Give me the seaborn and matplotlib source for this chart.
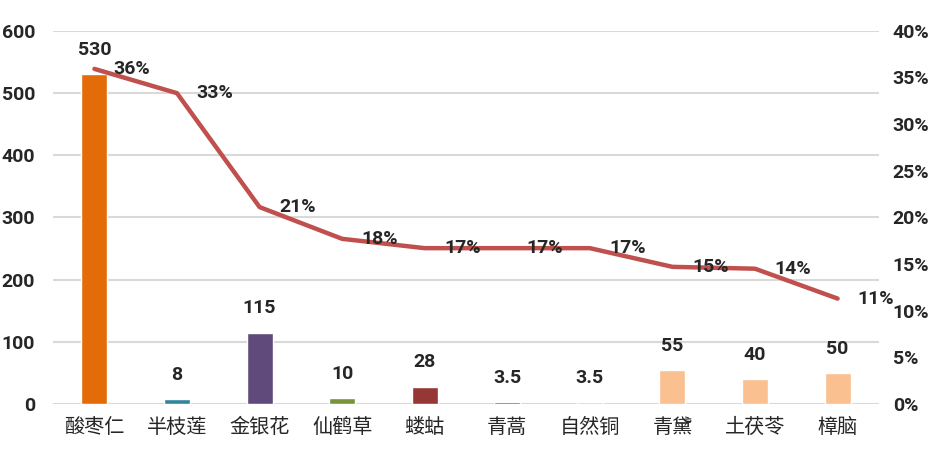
import seaborn as sns
import matplotlib.pyplot as plt
import pandas as pd
from matplotlib.ticker import FuncFormatter

herbs = ["酸枣仁", "半枝莲", "金银花", "仙鹤草", "蝼蛄", "青蒿", "自然铜", "青黛", "土茯苓", "樟脑"]
amounts = [530, 8, 115, 10, 28, 3.5, 3.5, 55, 40, 50]
amount_labels = ["530", "8", "115", "10", "28", "3.5", "3.5", "55", "40", "50"]
rates = [0.359, 0.333, 0.211, 0.177, 0.167, 0.167, 0.167, 0.147, 0.145, 0.113]
rate_labels = ["36%", "33%", "21%", "18%", "17%", "17%", "17%", "15%", "14%", "11%"]
bar_colors = ["#E36C09", "#31859C", "#604A7B", "#77933C", "#953735",
              "#376092", "#FAC090", "#FAC090", "#FAC090", "#FAC090"]

df = pd.DataFrame({"herb": herbs, "amount": amounts, "rate": rates})

sns.set_style("white")
plt.rcParams['font.family'] = ['Roboto', 'Noto Sans CJK SC', 'DejaVu Sans']

fig, ax = plt.subplots(figsize=(9.32, 4.5), dpi=100)
fig.subplots_adjust(left=0.057, right=0.943, top=0.932, bottom=0.102)

sns.barplot(data=df, x="herb", y="amount", hue="herb", palette=bar_colors,
            saturation=1, width=0.315, legend=False, ax=ax, zorder=2)
ax.set_ylim(0, 600)
ax.set_yticks(range(0, 601, 100))
ax.set_xlim(-0.5, len(herbs) - 0.5)
ax.yaxis.grid(True, color="#D9D9D9", linewidth=1.5, zorder=0)
ax.set_axisbelow(True)
for s in ax.spines.values():
    s.set_visible(False)
ax.set_xlabel("")
ax.set_ylabel("")
ax.tick_params(axis="both", length=0)
ax.tick_params(axis="y", labelsize=14, pad=13)
for lab in ax.get_yticklabels():
    lab.set_fontweight("bold")
ax.set_xticks(range(len(herbs)))
ax.set_xticklabels(herbs, fontsize=14.5, family=['Noto Sans CJK SC'])
ax.tick_params(axis="x", pad=9)

for i, (v, t) in enumerate(zip(amounts, amount_labels)):
    ax.annotate(t, (i, v), xytext=(0, 11), textcoords="offset points",
                ha="center", va="bottom", fontsize=14, fontweight="bold")

ax2 = ax.twinx()
sns.lineplot(x=list(range(len(herbs))), y=rates, ax=ax2, color="#C0504D",
             linewidth=3.2, zorder=3)
ax2.set_ylim(0, 0.4)
ax2.set_yticks([i * 0.05 for i in range(9)])
ax2.yaxis.set_major_formatter(FuncFormatter(lambda v, p: f"{v*100:.0f}%"))
for s in ax2.spines.values():
    s.set_visible(False)
ax2.tick_params(axis="y", length=0, labelsize=14, pad=10)
for lab in ax2.get_yticklabels():
    lab.set_fontweight("bold")

for i, (r, t) in enumerate(zip(rates, rate_labels)):
    ax2.annotate(t, (i, r), xytext=(14, 0), textcoords="offset points",
                 ha="left", va="center", fontsize=14, fontweight="bold")

plt.savefig("out.png", dpi=100)
